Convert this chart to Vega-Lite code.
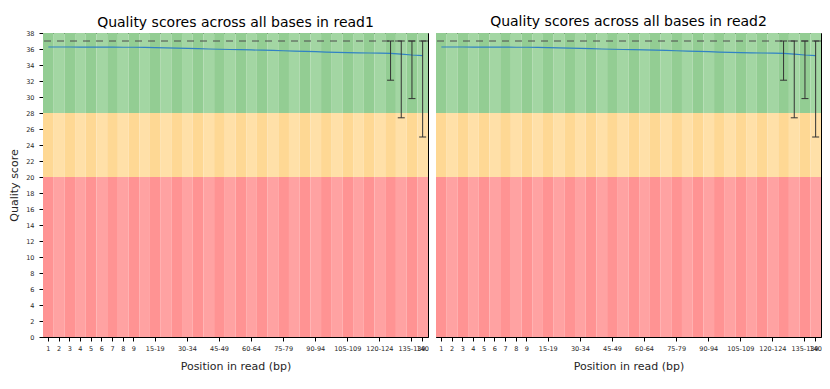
{
  "$schema": "https://vega.github.io/schema/vega-lite/v6.json",
  "padding": {"left": 8, "top": 14, "right": 5, "bottom": 5},
  "bounds": "flush",
  "spacing": 8,
  "background": "#ffffff",
  "datasets": {
    "read1": [
      {"pos": "1", "band": 0, "mean": 36.25},
      {"pos": "2", "band": 1, "mean": 36.25},
      {"pos": "3", "band": 0, "mean": 36.25},
      {"pos": "4", "band": 1, "mean": 36.24},
      {"pos": "5", "band": 0, "mean": 36.24},
      {"pos": "6", "band": 1, "mean": 36.23},
      {"pos": "7", "band": 0, "mean": 36.23},
      {"pos": "8", "band": 1, "mean": 36.22},
      {"pos": "9", "band": 0, "mean": 36.22},
      {"pos": "10-14", "band": 1, "mean": 36.2},
      {"pos": "15-19", "band": 0, "mean": 36.18},
      {"pos": "20-24", "band": 1, "mean": 36.15},
      {"pos": "25-29", "band": 0, "mean": 36.12},
      {"pos": "30-34", "band": 1, "mean": 36.08},
      {"pos": "35-39", "band": 0, "mean": 36.04},
      {"pos": "40-44", "band": 1, "mean": 36.0},
      {"pos": "45-49", "band": 0, "mean": 35.97},
      {"pos": "50-54", "band": 1, "mean": 35.94},
      {"pos": "55-59", "band": 0, "mean": 35.91},
      {"pos": "60-64", "band": 1, "mean": 35.88},
      {"pos": "65-69", "band": 0, "mean": 35.85},
      {"pos": "70-74", "band": 1, "mean": 35.82},
      {"pos": "75-79", "band": 0, "mean": 35.78},
      {"pos": "80-84", "band": 1, "mean": 35.74},
      {"pos": "85-89", "band": 0, "mean": 35.7},
      {"pos": "90-94", "band": 1, "mean": 35.66},
      {"pos": "95-99", "band": 0, "mean": 35.62},
      {"pos": "100-104", "band": 1, "mean": 35.58},
      {"pos": "105-109", "band": 0, "mean": 35.55},
      {"pos": "110-114", "band": 1, "mean": 35.52},
      {"pos": "115-119", "band": 0, "mean": 35.5},
      {"pos": "120-124", "band": 1, "mean": 35.48},
      {"pos": "125-129", "band": 0, "mean": 35.45, "lo": 32.1, "hi": 37},
      {"pos": "130-134", "band": 1, "mean": 35.35, "lo": 27.4, "hi": 37},
      {"pos": "135-139", "band": 0, "mean": 35.25, "lo": 29.8, "hi": 37},
      {"pos": "140", "band": 1, "mean": 35.18, "lo": 25.0, "hi": 37}
    ],
    "read2": [
      {"pos": "1", "band": 0, "mean": 36.25},
      {"pos": "2", "band": 1, "mean": 36.25},
      {"pos": "3", "band": 0, "mean": 36.25},
      {"pos": "4", "band": 1, "mean": 36.24},
      {"pos": "5", "band": 0, "mean": 36.24},
      {"pos": "6", "band": 1, "mean": 36.23},
      {"pos": "7", "band": 0, "mean": 36.23},
      {"pos": "8", "band": 1, "mean": 36.22},
      {"pos": "9", "band": 0, "mean": 36.22},
      {"pos": "10-14", "band": 1, "mean": 36.2},
      {"pos": "15-19", "band": 0, "mean": 36.18},
      {"pos": "20-24", "band": 1, "mean": 36.15},
      {"pos": "25-29", "band": 0, "mean": 36.12},
      {"pos": "30-34", "band": 1, "mean": 36.08},
      {"pos": "35-39", "band": 0, "mean": 36.04},
      {"pos": "40-44", "band": 1, "mean": 36.0},
      {"pos": "45-49", "band": 0, "mean": 35.97},
      {"pos": "50-54", "band": 1, "mean": 35.94},
      {"pos": "55-59", "band": 0, "mean": 35.91},
      {"pos": "60-64", "band": 1, "mean": 35.88},
      {"pos": "65-69", "band": 0, "mean": 35.85},
      {"pos": "70-74", "band": 1, "mean": 35.82},
      {"pos": "75-79", "band": 0, "mean": 35.78},
      {"pos": "80-84", "band": 1, "mean": 35.74},
      {"pos": "85-89", "band": 0, "mean": 35.7},
      {"pos": "90-94", "band": 1, "mean": 35.66},
      {"pos": "95-99", "band": 0, "mean": 35.62},
      {"pos": "100-104", "band": 1, "mean": 35.58},
      {"pos": "105-109", "band": 0, "mean": 35.55},
      {"pos": "110-114", "band": 1, "mean": 35.52},
      {"pos": "115-119", "band": 0, "mean": 35.5},
      {"pos": "120-124", "band": 1, "mean": 35.48},
      {"pos": "125-129", "band": 0, "mean": 35.45, "lo": 32.1, "hi": 37},
      {"pos": "130-134", "band": 1, "mean": 35.35, "lo": 27.4, "hi": 37},
      {"pos": "135-139", "band": 0, "mean": 35.25, "lo": 29.8, "hi": 37},
      {"pos": "140", "band": 1, "mean": 35.18, "lo": 25.0, "hi": 37}
    ],
    "ref": [{"q": 37}]
  },
  "hconcat": [
    {
      "width": 385,
      "height": 304,
      "title": {"text": "Quality scores across all bases in read1", "baseline": "alphabetic", "offset": -11},
      "data": {"name": "read1"},
      "layer": [
        {
          "mark": {"type": "rect", "strokeWidth": 0},
          "encoding": {
            "x": {"field": "pos", "type": "ordinal", "sort": null, "scale": {"type": "band", "paddingInner": 0, "paddingOuter": 0},
                  "axis": {"title": "Position in read (bp)", "labelAngle": 0, "labelOverlap": false, "labelPadding": 4, "titlePadding": 9,
                           "values": ["1","2","3","4","5","6","7","8","9","15-19","30-34","45-49","60-64","75-79","90-94","105-109","120-124","135-139","140"]}},
            "y": {"datum": 28, "type": "quantitative", "scale": {"domain": [0, 38], "nice": false},
                  "axis": {"title": "Quality score", "values": [0,2,4,6,8,10,12,14,16,18,20,22,24,26,28,30,32,34,36,38], "tickCount": 20, "labelOverlap": false, "labelPadding": 5, "titlePadding": 6}},
            "y2": {"datum": 38},
            "fill": {"condition": {"test": "datum.band == 1", "value": "#a3d6a3"}, "value": "#93cd93"}
          }
        },
        {
          "mark": {"type": "rect", "strokeWidth": 0},
          "encoding": {
            "x": {"field": "pos", "type": "ordinal", "sort": null},
            "y": {"datum": 20, "type": "quantitative"},
            "y2": {"datum": 28},
            "fill": {"condition": {"test": "datum.band == 1", "value": "#ffe0a8"}, "value": "#fed894"}
          }
        },
        {
          "mark": {"type": "rect", "strokeWidth": 0},
          "encoding": {
            "x": {"field": "pos", "type": "ordinal", "sort": null},
            "y": {"datum": 0, "type": "quantitative"},
            "y2": {"datum": 20},
            "fill": {"condition": {"test": "datum.band == 1", "value": "#ffa2a2"}, "value": "#ff9393"}
          }
        },
        {
          "data": {"name": "ref"},
          "mark": {"type": "rule", "color": "#4d4d4d", "strokeWidth": 1, "strokeDash": [7, 6]},
          "encoding": {"y": {"field": "q", "type": "quantitative"}}
        },
        {
          "mark": {"type": "line", "color": "#3182c4", "strokeWidth": 1.2},
          "encoding": {
            "x": {"field": "pos", "type": "ordinal", "sort": null},
            "y": {"field": "mean", "type": "quantitative"}
          }
        },
        {
          "mark": {"type": "rule", "color": "#333333", "strokeWidth": 1},
          "encoding": {
            "x": {"field": "pos", "type": "ordinal", "sort": null},
            "y": {"field": "lo", "type": "quantitative"},
            "y2": {"field": "hi"}
          }
        },
        {
          "mark": {"type": "tick", "color": "#333333", "size": 7, "thickness": 1, "opacity": 1},
          "encoding": {
            "x": {"field": "pos", "type": "ordinal", "sort": null},
            "y": {"field": "lo", "type": "quantitative"}
          }
        },
        {
          "mark": {"type": "tick", "color": "#333333", "size": 7, "thickness": 1, "opacity": 1},
          "encoding": {
            "x": {"field": "pos", "type": "ordinal", "sort": null},
            "y": {"field": "hi", "type": "quantitative"}
          }
        }
      ]
    },
    {
      "width": 385,
      "height": 304,
      "title": {"text": "Quality scores across all bases in read2", "baseline": "alphabetic", "offset": -7},
      "data": {"name": "read2"},
      "layer": [
        {
          "mark": {"type": "rect", "strokeWidth": 0},
          "encoding": {
            "x": {"field": "pos", "type": "ordinal", "sort": null, "scale": {"type": "band", "paddingInner": 0, "paddingOuter": 0},
                  "axis": {"title": "Position in read (bp)", "labelAngle": 0, "labelOverlap": false, "labelPadding": 4, "titlePadding": 9,
                           "values": ["1","2","3","4","5","6","7","8","9","15-19","30-34","45-49","60-64","75-79","90-94","105-109","120-124","135-139","140"]}},
            "y": {"datum": 28, "type": "quantitative", "scale": {"domain": [0, 38], "nice": false}, "axis": null},
            "y2": {"datum": 38},
            "fill": {"condition": {"test": "datum.band == 1", "value": "#a3d6a3"}, "value": "#93cd93"}
          }
        },
        {
          "mark": {"type": "rect", "strokeWidth": 0},
          "encoding": {
            "x": {"field": "pos", "type": "ordinal", "sort": null},
            "y": {"datum": 20, "type": "quantitative"},
            "y2": {"datum": 28},
            "fill": {"condition": {"test": "datum.band == 1", "value": "#ffe0a8"}, "value": "#fed894"}
          }
        },
        {
          "mark": {"type": "rect", "strokeWidth": 0},
          "encoding": {
            "x": {"field": "pos", "type": "ordinal", "sort": null},
            "y": {"datum": 0, "type": "quantitative"},
            "y2": {"datum": 20},
            "fill": {"condition": {"test": "datum.band == 1", "value": "#ffa2a2"}, "value": "#ff9393"}
          }
        },
        {
          "data": {"name": "ref"},
          "mark": {"type": "rule", "color": "#4d4d4d", "strokeWidth": 1, "strokeDash": [7, 6]},
          "encoding": {"y": {"field": "q", "type": "quantitative"}}
        },
        {
          "mark": {"type": "line", "color": "#3182c4", "strokeWidth": 1.2},
          "encoding": {
            "x": {"field": "pos", "type": "ordinal", "sort": null},
            "y": {"field": "mean", "type": "quantitative"}
          }
        },
        {
          "mark": {"type": "rule", "color": "#333333", "strokeWidth": 1},
          "encoding": {
            "x": {"field": "pos", "type": "ordinal", "sort": null},
            "y": {"field": "lo", "type": "quantitative"},
            "y2": {"field": "hi"}
          }
        },
        {
          "mark": {"type": "tick", "color": "#333333", "size": 7, "thickness": 1, "opacity": 1},
          "encoding": {
            "x": {"field": "pos", "type": "ordinal", "sort": null},
            "y": {"field": "lo", "type": "quantitative"}
          }
        },
        {
          "mark": {"type": "tick", "color": "#333333", "size": 7, "thickness": 1, "opacity": 1},
          "encoding": {
            "x": {"field": "pos", "type": "ordinal", "sort": null},
            "y": {"field": "hi", "type": "quantitative"}
          }
        }
      ]
    }
  ],
  "config": {
    "font": "DejaVu Sans",
    "view": {"stroke": "#000000", "strokeWidth": 1},
    "axis": {
      "labelFont": "DejaVu Sans", "titleFont": "DejaVu Sans",
      "labelFontSize": 6.5, "titleFontSize": 11, "titleFontWeight": "normal",
      "labelColor": "#262626", "titleColor": "#262626",
      "tickColor": "#000000", "domainColor": "#000000", "tickSize": 4, "grid": false
    },
    "axisY": {"labelOverlap": false},
    "title": {"font": "DejaVu Sans", "fontSize": 14, "fontWeight": "normal", "color": "#000000"}
  }
}
